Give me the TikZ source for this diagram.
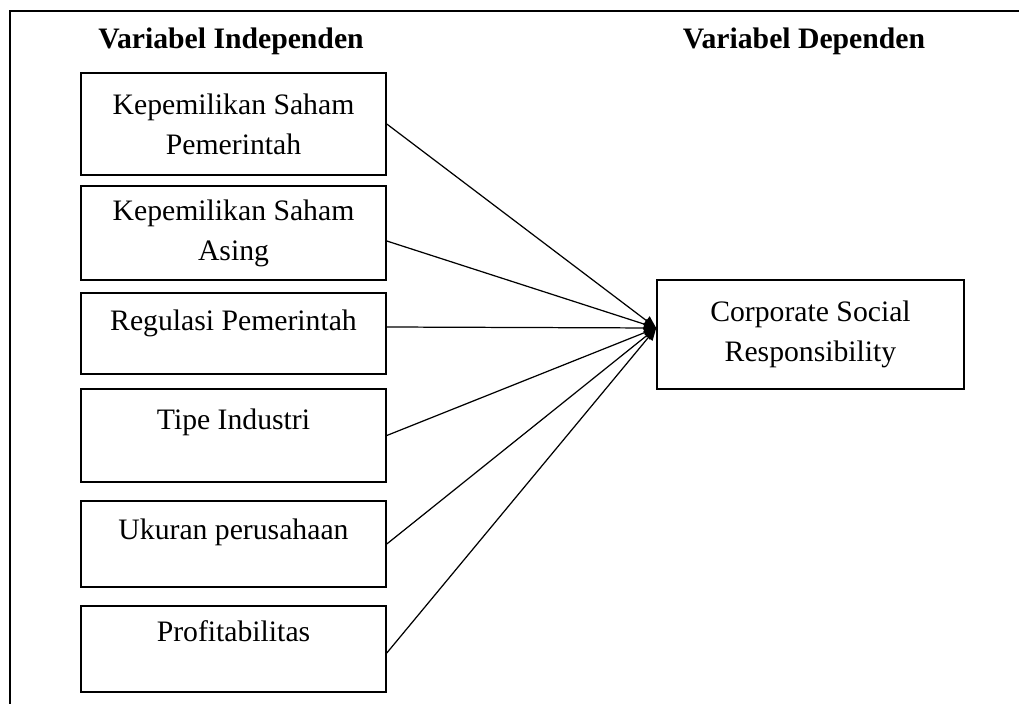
\documentclass[tikz,border=0pt]{standalone}
\usepackage{fontspec}
\setmainfont{Liberation Serif}
\usetikzlibrary{arrows.meta,positioning}

\begin{document}
\begin{tikzpicture}[
  vbox/.style={rectangle, draw=black, line width=0.9pt, minimum width=6.10cm,
               inner sep=0pt, align=center,
               font=\fontsize{16.9pt}{22.8pt}\selectfont},
  hbox/.style={font=\fontsize{16.9pt}{22.8pt}\selectfont\bfseries},
  varr/.style={-{Triangle[length=7pt,width=6pt]}, line width=0.7pt}
]
\useasboundingbox (0,0) rectangle (20.38,14.08);

% Frame
\draw[line width=0.9pt] (20.38,13.86) -- (0.2,13.86) -- (0.2,0);

% Headings
\node[hbox] (hind) at (4.62,13.25) {Variabel Independen};
\node[hbox] (hdep) at (16.08,13.25) {Variabel Dependen};

% Independent variables
\node[vbox, minimum height=2.04cm] (ksp) at (4.67,11.60) {Kepemilikan Saham\\Pemerintah};
\node[vbox, minimum height=1.88cm] (ksa) at (4.67, 9.42) {Kepemilikan Saham\\Asing};
\node[vbox, minimum height=1.62cm] (reg) at (4.67, 7.41) {Regulasi Pemerintah\\[-0.25cm]\mbox{}};
\node[vbox, minimum height=1.86cm] (tip) at (4.67, 5.37) {Tipe Industri\\[-0.15cm]\mbox{}};
\node[vbox, minimum height=1.72cm] (uku) at (4.67, 3.20) {Ukuran perusahaan\\[-0.2cm]\mbox{}};
\node[vbox, minimum height=1.72cm] (pro) at (4.67, 1.10) {Profitabilitas\\[-0.1cm]\mbox{}};

% Dependent variable
\node[vbox, minimum width=6.14cm, minimum height=2.18cm] (csr) at (16.21,7.39) {Corporate Social\\Responsibility};
\coordinate (hub) at ([yshift=0.13cm]csr.west);

% Arrows
\foreach \v/\s in {ksp/0,ksa/-0.16,reg/0.13,tip/0,uku/0,pro/-0.08}
  \draw[varr] ([yshift=\s cm]\v.east) -- (hub);
\end{tikzpicture}
\end{document}
